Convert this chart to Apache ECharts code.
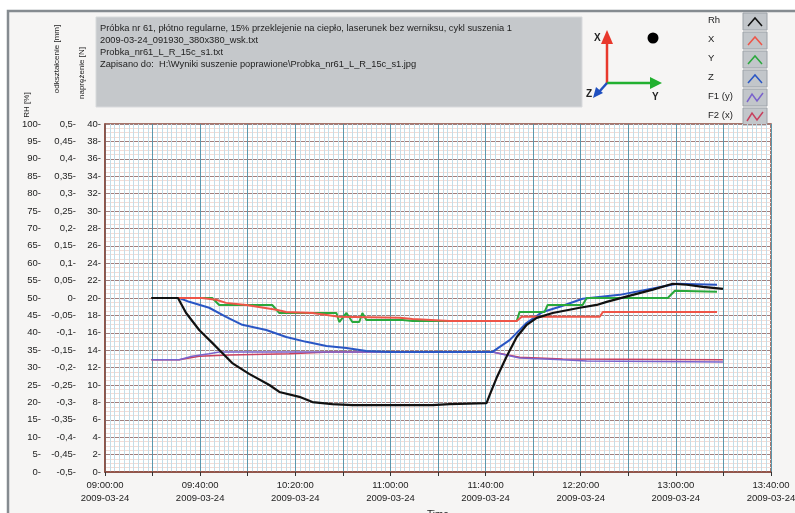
<!DOCTYPE html>
<html>
<head>
<meta charset="utf-8">
<title>Probka_nr61_L_R_15c_s1</title>
<script src="https://cdn.jsdelivr.net/npm/echarts@6/dist/echarts.min.js"></script>
<style>
  html, body { margin: 0; padding: 0; background: #ffffff; }
  #chart { width: 795px; height: 513px; }
</style>
</head>
<body>
<div id="chart"></div>
<script>
// ---- measurement record (time of day, value) ----
const rhTime = ['09:19:30','09:30:40','09:34:06','09:39:36','09:45:06','09:49:18','09:53:30','10:00:36','10:09:06','10:13:18','10:21:42','10:27:12','10:35:36','10:44:00','11:17:42','11:24:48','11:40:24','11:41:42','11:44:36','11:48:48','11:53:06','11:57:18','12:01:30','12:08:12','12:19:36','12:26:42','12:30:54','12:41:54','12:50:18','12:58:42','13:04:36','13:11:24','13:19:48'];
const rhValues = [50.0,50.0,45.7,40.8,37.1,34.2,31.3,28.2,25.0,23.0,21.6,20.1,19.5,19.2,19.2,19.5,19.8,22.1,27.0,33.1,38.8,42.3,44.3,45.7,47.2,48.0,48.9,50.9,52.4,54.1,53.8,53.2,52.6];

const xTime = ['09:19:30','09:40:48','09:46:42','09:50:54','09:59:24','10:12:00','10:16:12','10:27:12','10:38:30','11:03:48','11:09:18','11:24:48','11:53:06','11:55:12','12:28:00','12:29:18','13:17:18'];
const xValues = [0.000,0.000,-0.005,-0.014,-0.020,-0.034,-0.040,-0.043,-0.054,-0.057,-0.060,-0.066,-0.066,-0.054,-0.054,-0.040,-0.040];

const yTime = ['09:19:30','09:45:06','09:48:00','10:10:18','10:13:18','10:37:18','10:38:30','10:41:30','10:44:00','10:46:54','10:48:12','10:49:54','11:05:06','11:09:18','11:53:06','11:54:18','12:04:48','12:06:06','12:20:48','12:22:30','12:56:36','12:59:36','13:17:18'];
const yValues = [0.000,0.000,-0.020,-0.020,-0.043,-0.043,-0.069,-0.043,-0.069,-0.069,-0.043,-0.063,-0.063,-0.066,-0.066,-0.040,-0.040,-0.020,-0.020,0.000,0.000,0.021,0.018];

const zTime = ['09:19:30','09:31:12','09:35:24','09:43:48','09:50:54','09:57:42','10:07:48','10:16:12','10:24:36','10:33:06','10:41:30','10:49:54','10:59:36','11:42:54','11:50:06','11:57:18','12:04:00','12:11:12','12:20:48','12:36:24','12:50:18','13:00:24','13:17:18'];
const zValues = [0.000,0.000,-0.011,-0.028,-0.054,-0.077,-0.092,-0.112,-0.126,-0.138,-0.144,-0.152,-0.155,-0.155,-0.121,-0.071,-0.040,-0.025,-0.002,0.009,0.027,0.041,0.038];

const f1Time = ['09:19:30','09:31:12','09:36:36','09:43:48','09:48:00','11:42:54','11:54:18','12:12:24','12:22:30','13:19:48'];
const f1Values = [12.9,12.9,13.3,13.6,13.8,13.8,13.1,12.9,12.75,12.65];

const f2Time = ['09:19:30','09:31:12','09:39:36','09:52:12','10:17:30','10:34:18','11:42:54','11:54:18','12:12:24','13:19:48'];
const f2Values = [12.9,12.9,13.3,13.45,13.6,13.8,13.8,13.2,13.0,12.9];

// ---- axis scales ----
const timeStart = '09:00:00';
const timeEnd = '13:40:00';
const timeStepMin = 20;
const rhRange = [0, 100, 5];
const mmRange = [-0.5, 0.5, 0.05];
const nRange = [0, 40, 2];
const dateLabel = '2009-03-24';

const headerLines = [
  'Próbka nr 61, płótno regularne, 15% przeklejenie na ciepło, laserunek bez werniksu, cykl suszenia 1',
  '2009-03-24_091930_380x380_wsk.txt',
  'Probka_nr61_L_R_15c_s1.txt',
  'Zapisano do:  H:\\Wyniki suszenie poprawione\\Probka_nr61_L_R_15c_s1.jpg'
];
const legendNames = ['Rh', 'X', 'Y', 'Z', 'F1 (y)', 'F2 (x)'];
const legendColors = ['#111111', '#ee5548', '#2aa83c', '#2a56c4', '#7a62cc', '#c8405e'];

// minutes elapsed since 09:00
function toMin(t) {
  const p = t.split(':').map(Number);
  return (p[0] - 9) * 60 + p[1] + p[2] / 60;
}
function pairs(times, vals) { return times.map((t, i) => [toMin(t), vals[i]]); }
function pad(n) { return (n < 10 ? '0' : '') + n; }
function clock(m) {
  const h = 9 + Math.floor(m / 60), mm = Math.round(m % 60);
  return pad(h) + ':' + pad(mm) + ':00';
}
function comma(v) { return String(Number(v.toFixed(2))).replace('.', ','); }

const FONT = '"Liberation Sans", Arial, sans-serif';
const labelStyle = { color: '#222', fontFamily: FONT, fontSize: 9.5 };

const chart = echarts.init(document.getElementById('chart'), null, { renderer: 'canvas' });

// legend entries drawn at the right of the header
const legendGraphics = [];
legendNames.forEach((name, i) => {
  const y = 13 + i * 19;
  legendGraphics.push({
    type: 'text', left: 708, top: y + 2,
    style: { text: name, fill: '#222', font: '9.5px ' + FONT }
  });
  legendGraphics.push({
    type: 'rect', shape: { x: 743, y: y, width: 24, height: 17 },
    style: { fill: '#c2c6ca', stroke: '#9ca2a8', lineWidth: 1 }
  });
  const pts = i < 4
    ? [[748, y + 13], [755, y + 5], [762, y + 13]]
    : [[747, y + 13], [752, y + 5], [757, y + 12], [763, y + 4]];
  legendGraphics.push({
    type: 'polyline', shape: { points: pts },
    style: { stroke: legendColors[i], lineWidth: 1.5, fill: null }
  });
});

function sideTitle(text, x, y) {
  return {
    type: 'text', x: x, y: y, rotation: Math.PI / 2,
    style: { text: text, fill: '#222', font: '8px ' + FONT, align: 'center', verticalAlign: 'middle' }
  };
}

const option = {
  backgroundColor: '#ffffff',
  animation: false,
  grid: {
    left: 105, right: 24, top: 124, bottom: 41,
    outerBoundsMode: 'none',
    show: true, backgroundColor: '#ffffff', borderColor: '#8c4a3c', borderWidth: 1.5
  },
  xAxis: {
    type: 'value',
    min: toMin(timeStart), max: toMin(timeEnd), interval: timeStepMin,
    name: 'Time', nameLocation: 'middle', nameGap: 37,
    nameTextStyle: { color: '#222', fontFamily: FONT, fontSize: 10 },
    axisLine: { show: true, lineStyle: { color: '#8c4a3c', width: 1.5 } },
    axisTick: { show: true, length: 4, lineStyle: { color: '#333' } },
    axisLabel: Object.assign({}, labelStyle, {
      margin: 7, lineHeight: 13, showMinLabel: true, showMaxLabel: true,
      formatter: v => (Math.round(v) % 40 === 0 ? clock(v) + '\n' + dateLabel : '')
    }),
    splitLine: { show: true, lineStyle: { color: '#5a98ae', width: 1 } },
    minorTick: { show: false, splitNumber: 10 },
    minorSplitLine: { show: true, lineStyle: { color: '#c4dde8', width: 1 } }
  },
  yAxis: [
    {
      type: 'value', min: rhRange[0], max: rhRange[1], interval: rhRange[2],
      position: 'left', offset: 60,
      axisLine: { show: false }, axisTick: { show: false }, splitLine: { show: false },
      axisLabel: Object.assign({}, labelStyle, { margin: 4, formatter: v => v + '-' })
    },
    {
      type: 'value', min: mmRange[0], max: mmRange[1], interval: mmRange[2],
      position: 'left', offset: 25,
      axisLine: { show: false }, axisTick: { show: false }, splitLine: { show: false },
      axisLabel: Object.assign({}, labelStyle, { margin: 4, formatter: v => comma(v) + '-' })
    },
    {
      type: 'value', min: nRange[0], max: nRange[1], interval: nRange[2],
      position: 'left', offset: 0,
      axisLine: { show: true, lineStyle: { color: '#8c4a3c', width: 1.5 } },
      axisTick: { show: false },
      axisLabel: Object.assign({}, labelStyle, { margin: 4, formatter: v => v + '-' }),
      splitLine: { show: true, lineStyle: { color: '#a07e7c', width: 1 } },
      minorTick: { show: false, splitNumber: 4 },
      minorSplitLine: { show: true, lineStyle: { color: '#f3dcd6', width: 1 } }
    }
  ],
  series: [
    { name: 'F2 (x)', type: 'line', yAxisIndex: 2, data: pairs(f2Time, f2Values), showSymbol: false,
      lineStyle: { color: legendColors[5], width: 1.5 }, z: 2 },
    { name: 'F1 (y)', type: 'line', yAxisIndex: 2, data: pairs(f1Time, f1Values), showSymbol: false,
      lineStyle: { color: legendColors[4], width: 1.5 }, z: 3 },
    { name: 'Z', type: 'line', yAxisIndex: 1, data: pairs(zTime, zValues), showSymbol: false,
      lineStyle: { color: legendColors[3], width: 2 }, z: 4 },
    { name: 'Y', type: 'line', yAxisIndex: 1, data: pairs(yTime, yValues), showSymbol: false,
      lineStyle: { color: legendColors[2], width: 2 }, z: 5 },
    { name: 'X', type: 'line', yAxisIndex: 1, data: pairs(xTime, xValues), showSymbol: false,
      lineStyle: { color: legendColors[1], width: 2 }, z: 6 },
    { name: 'Rh', type: 'line', yAxisIndex: 0, data: pairs(rhTime, rhValues), showSymbol: false,
      lineStyle: { color: legendColors[0], width: 2.2 }, z: 7 }
  ],
  graphic: [
    // panel frame
    { type: 'rect', z: -10, shape: { x: 8, y: 11, width: 800, height: 520 },
      style: { fill: '#f6f5f4', stroke: '#858b90', lineWidth: 2.5 } },
    // info box
    { type: 'rect', shape: { x: 96, y: 17, width: 486, height: 90 },
      style: { fill: '#c5c8cb', stroke: '#d8dadc', lineWidth: 1 } },
    { type: 'text', left: 100, top: 22,
      style: { text: headerLines.join('\n'), fill: '#222', font: '9.3px ' + FONT, lineHeight: 12 } },
    // axis titles
    sideTitle('RH [%]', 27, 105),
    sideTitle('odkształcenie [mm]', 57, 59),
    sideTitle('naprężenie [N]', 82, 73),
    // orientation glyph
    { type: 'line', shape: { x1: 607, y1: 83, x2: 607, y2: 40 }, style: { stroke: '#e8382c', lineWidth: 2.5 } },
    { type: 'polygon', shape: { points: [[601, 44], [613, 44], [607, 30]] }, style: { fill: '#e8382c' } },
    { type: 'line', shape: { x1: 607, y1: 83, x2: 652, y2: 83 }, style: { stroke: '#22b030', lineWidth: 2.5 } },
    { type: 'polygon', shape: { points: [[650, 77], [650, 89], [662, 83]] }, style: { fill: '#22b030' } },
    { type: 'line', shape: { x1: 607, y1: 83, x2: 599, y2: 92 }, style: { stroke: '#2050c0', lineWidth: 2.5 } },
    { type: 'polygon', shape: { points: [[596, 87], [603, 93], [593, 98]] }, style: { fill: '#2050c0' } },
    { type: 'text', left: 594, top: 33, style: { text: 'X', fill: '#222', font: 'bold 10px ' + FONT } },
    { type: 'text', left: 652, top: 92, style: { text: 'Y', fill: '#222', font: 'bold 10px ' + FONT } },
    { type: 'text', left: 586, top: 89, style: { text: 'Z', fill: '#222', font: 'bold 10px ' + FONT } },
    { type: 'circle', shape: { cx: 653, cy: 38, r: 5.5 }, style: { fill: '#000' } }
  ].concat(legendGraphics)
};

chart.setOption(option);
</script>
</body>
</html>
